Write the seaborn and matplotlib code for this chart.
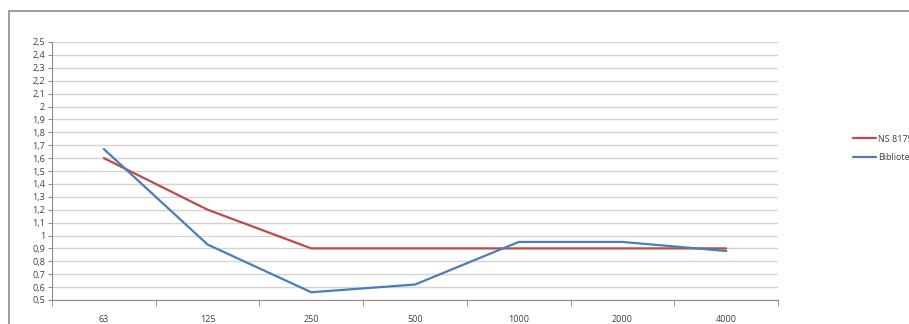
import matplotlib
matplotlib.use("Agg")
import matplotlib.pyplot as plt
import numpy as np
import pandas as pd
import seaborn as sns
from matplotlib.patches import Rectangle
from matplotlib.ticker import FixedLocator, FuncFormatter, MultipleLocator

# data
freqs = ['63', '125', '250', '500', '1000', '2000', '4000']
ns8175 = [1.6, 1.2, 0.9, 0.9, 0.9, 0.9, 0.9]
bibliotek = [1.67, 0.93, 0.56, 0.62, 0.95, 0.95, 0.88]
series_names = ['NS 8175', 'Bibliotek']
colors = ['#BE4B48', '#4A7EBB']

df = pd.DataFrame({
    'freq': freqs * 2,
    'value': ns8175 + bibliotek,
    'series': [series_names[0]] * len(freqs) + [series_names[1]] * len(freqs),
})

sns.set_style('white')
plt.rcParams['font.family'] = ['Open Sans', 'DejaVu Sans']

W, H = 909, 324
fig = plt.figure(figsize=(W / 100, H / 100), dpi=100)
ax = fig.add_axes([52 / W, 1 - 300 / H, (778 - 52) / W, (300 - 42) / H])

sns.lineplot(data=df, x='freq', y='value', hue='series', palette=colors,
             linewidth=1.6, ax=ax, sort=False, legend=True)

ax.set_xlim(-0.5, len(freqs) - 0.5)
ax.set_ylim(0.5, 2.5)
ax.yaxis.set_major_locator(MultipleLocator(0.1))
ax.yaxis.set_major_formatter(FuncFormatter(lambda v, p: f"{round(v, 1):g}".replace('.', ',')))
ax.xaxis.set_minor_locator(FixedLocator(np.arange(-0.5, len(freqs), 1.0)))
ax.set_xlabel('')
ax.set_ylabel('')

ax.grid(axis='y', color='#D4D4D4', linewidth=1.0)
ax.set_axisbelow(True)
for side in ['top', 'right']:
    ax.spines[side].set_visible(False)
for side in ['left', 'bottom']:
    ax.spines[side].set_color('#8C8C8C')
    ax.spines[side].set_linewidth(0.8)

ax.tick_params(axis='y', which='major', length=3, color='#8C8C8C', labelsize=6.5,
               labelcolor='#404040', pad=2, left=True)
ax.tick_params(axis='x', which='major', length=0, labelsize=6.5, labelcolor='#404040', pad=11)
ax.tick_params(axis='x', which='minor', length=4, color='#8C8C8C', bottom=True)

handles, labels = ax.get_legend_handles_labels()
ax.legend_.remove()
fig.legend(handles, labels, loc='center left', bbox_to_anchor=(853 / W, 1 - 148.5 / H),
           frameon=False, fontsize=6.5, handlelength=2.5, handletextpad=0.3,
           labelspacing=1.1, borderpad=0, borderaxespad=0, labelcolor='#404040')

# outer chart frame (cut off at right and bottom in the reference)
fig.patches.append(Rectangle((9 / W, -0.2), 1.2, 1 - 10.5 / H + 0.2, transform=fig.transFigure,
                             fill=False, edgecolor='#8C8C8C', linewidth=1.2, zorder=0))

fig.savefig('out.png', dpi=100)
